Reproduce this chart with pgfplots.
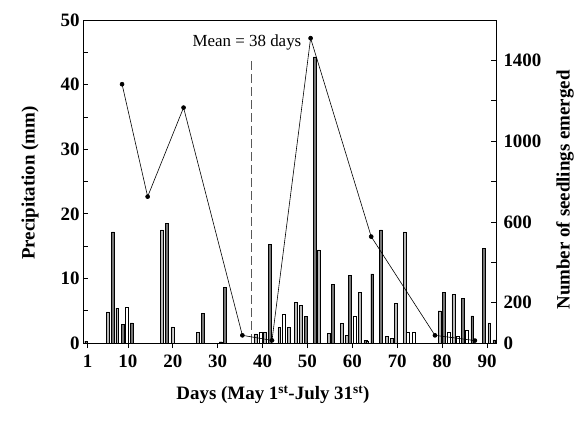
\documentclass[border=0pt]{standalone}
\usepackage{fontspec}
\setmainfont{Liberation Serif}
\usepackage{pgfplots}
\pgfplotsset{compat=1.18}

\definecolor{bardark}{HTML}{767676}
\definecolor{barlight}{HTML}{B8B8B8}

\pgfplotsset{
  every axis/.append style={
    scale only axis, width=413bp, height=323bp,
    at={(83bp,80bp)}, anchor=south west,
    xmin=0, xmax=92,
    tick align=inside,
    tick style={black, line width=0.6pt},
    major tick length=5bp, minor tick length=5bp,
    tick label style={font=\fontsize{19}{19}\selectfont\bfseries},
    label style={font=\fontsize{19}{19}\selectfont\bfseries},
    /pgf/number format/assume math mode=true,
    /pgf/number format/1000 sep={},
    axis line style={line width=0.7pt},
  },
  precip/.style={ybar, bar shift=0pt, bar width=2.8bp, draw=black, line width=0.4pt},
}

\begin{document}
\begin{tikzpicture}
\begin{axis}[
  ymin=0, ymax=50,
  ytick={0,10,20,30,40,50},
  minor ytick={5,15,25,35,45},
  xtick={1,10,20,30,40,50,60,70,80,90},
  xtick pos=bottom, ytick pos=left,
  major x tick style={yshift=-5bp},
  xticklabel style={yshift=-8bp},
  ylabel={Precipitation (mm)},
  ylabel style={at={(axis description cs:-0.128,0.495)}, anchor=center},
  xlabel={Days (May 1\textsuperscript{st}-July 31\textsuperscript{st})},
  xlabel style={at={(axis description cs:0.46,-0.161)}, anchor=center},
]
% dark bars
\addplot[precip, fill=bardark] coordinates {
(0.7,0.3) (6.7,17.2) (8.9,2.9) (10.8,3.1) (18.7,18.5) (26.7,4.6) (30.7,0.2)
(31.6,8.6) (41.6,15.3) (49.6,4.1) (51.6,44.3) (55.6,9.1) (59.4,10.5)
(62.9,0.4) (64.4,10.7) (66.4,17.5) (80.4,7.8) (84.6,6.9) (86.7,4.2)
(89.3,14.7) (91.6,0.5)
};
% light grey bars
\addplot[precip, fill=barlight] coordinates {
(5.5,4.8) (7.6,5.4) (17.6,17.5) (19.9,2.5) (25.6,1.7) (38.4,1.4) (40.5,1.7)
(43.7,2.4) (45.9,2.4) (47.4,6.3) (48.5,5.8) (52.5,14.4) (54.7,1.5)
(57.6,3.0) (58.7,1.2) (61.6,7.8) (63.3,0.3) (67.6,1.0) (68.7,0.7)
(69.7,6.1) (71.6,17.2) (79.4,5.0) (82.5,7.5) (90.5,3.1)
};
% white bars
\addplot[precip, fill=white] coordinates {
(9.7,5.6) (39.6,1.6) (44.7,4.4) (60.5,4.2) (72.4,1.7) (73.6,1.7)
(81.4,1.7) (83.5,1.0) (85.5,2.0)
};
% mean emergence day
\addplot[gray!70!black, line width=0.7pt, dash pattern=on 9bp off 4bp]
  coordinates {(37.5,0) (37.5,43.8)};
\node[anchor=east, font=\fontsize{17}{17}\selectfont, inner sep=1bp]
  at (axis cs:48.9,46.6) {Mean = 38 days};
\end{axis}

\begin{axis}[
  ymin=0, ymax=1600,
  axis x line=none,
  axis y line*=right,
  clip=false,
  ytick={0,200,600,1000,1400},
  minor ytick={400,800,1200},
  yticklabel style={xshift=4bp},
]
\addplot[black, line width=0.6pt, mark=*, mark size=2pt,
  mark options={solid, fill=black}] coordinates {
(8.7,1282) (14.4,725) (22.4,1166) (35.5,38) (42.1,13) (50.7,1510)
(64.2,527) (78.4,38) (87.3,12)
};
\node[rotate=90, anchor=center, font=\fontsize{19}{19}\selectfont\bfseries]
  at (axis description cs:1.167,0.474) {Number of seedlings emerged};
\end{axis}
\pgfresetboundingbox
\path[use as bounding box] (0,0) rectangle (585bp,423bp);
\end{tikzpicture}
\end{document}
